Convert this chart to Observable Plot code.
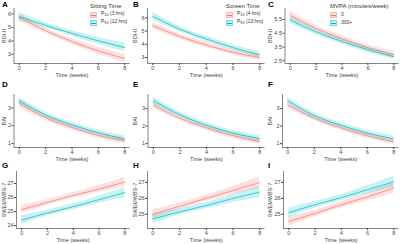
<!DOCTYPE html>
<html><head><meta charset="utf-8">
<script src="https://cdn.jsdelivr.net/npm/d3@7"></script>
<script src="https://cdn.jsdelivr.net/npm/@observablehq/plot@0.6"></script>
<style>
body{margin:0;background:#fff;}
#root{position:relative;width:400px;height:244px;overflow:hidden;font-family:"Liberation Sans",Arial,sans-serif;background:#fff;}
.pn{position:absolute;}
.pn svg{overflow:visible;}
.let{position:absolute;font-weight:bold;font-size:8px;color:#000;line-height:1;}
.leg{position:absolute;color:#333;line-height:1;white-space:nowrap;}
.leg .tt{font-size:6px;margin-bottom:1.5px;}
.leg .row{display:flex;align-items:center;height:8px;font-size:5px;}
.leg .key{position:relative;width:7px;height:6px;margin-right:4px;box-sizing:border-box;}
.leg .key i{position:absolute;left:0;right:0;top:2.6px;height:0.8px;}
sub{font-size:3.8px;vertical-align:-1px;}
</style>
</head><body>
<div id="root"></div>
<script>
const RED = "#F8766D", CYAN = "#00BFC4";
const weeks = [0, 2, 4, 6, 8];
const xTicks = [0, 2, 4, 6, 8];

// Panel A: Sitting Time, BDI-II
const A_p10_est = [5.75, 4.75, 3.95, 3.25, 2.70];
const A_p10_lo  = [5.45, 4.55, 3.75, 3.00, 2.40];
const A_p10_hi  = [6.05, 4.95, 4.15, 3.50, 3.00];
const A_p90_est = [5.80, 5.15, 4.55, 4.00, 3.50];
const A_p90_lo  = [5.50, 4.95, 4.35, 3.75, 3.20];
const A_p90_hi  = [6.10, 5.35, 4.75, 4.25, 3.80];
// Panel B: Screen Time, BDI-II
const B_p10_est = [5.40, 4.60, 3.95, 3.40, 3.00];
const B_p10_lo  = [5.15, 4.40, 3.75, 3.20, 2.75];
const B_p10_hi  = [5.65, 4.80, 4.15, 3.60, 3.25];
const B_p90_est = [6.10, 5.15, 4.40, 3.75, 3.20];
const B_p90_lo  = [5.80, 4.95, 4.20, 3.55, 2.95];
const B_p90_hi  = [6.40, 5.35, 4.60, 3.95, 3.45];
// Panel C: MVPA, BDI-II
const C_0_est   = [5.80, 4.85, 4.10, 3.45, 2.95];
const C_0_lo    = [5.50, 4.65, 3.90, 3.25, 2.70];
const C_0_hi    = [6.10, 5.05, 4.30, 3.65, 3.20];
const C_300_est = [5.45, 4.60, 3.90, 3.30, 2.80];
const C_300_lo  = [5.20, 4.40, 3.70, 3.10, 2.60];
const C_300_hi  = [5.70, 4.80, 4.10, 3.50, 3.00];
// Panel D: Sitting Time, BAI
const D_p10_est = [3.25, 2.45, 1.90, 1.45, 1.15];
const D_p10_lo  = [3.05, 2.30, 1.75, 1.30, 0.98];
const D_p10_hi  = [3.45, 2.60, 2.05, 1.60, 1.32];
const D_p90_est = [3.40, 2.60, 2.05, 1.60, 1.25];
const D_p90_lo  = [3.20, 2.45, 1.90, 1.45, 1.08];
const D_p90_hi  = [3.60, 2.75, 2.20, 1.75, 1.42];
// Panel E: Screen Time, BAI
const E_p10_est = [3.20, 2.45, 1.90, 1.45, 1.12];
const E_p10_lo  = [3.00, 2.30, 1.75, 1.30, 0.95];
const E_p10_hi  = [3.40, 2.60, 2.05, 1.60, 1.29];
const E_p90_est = [3.45, 2.65, 2.05, 1.60, 1.28];
const E_p90_lo  = [3.25, 2.50, 1.90, 1.45, 1.10];
const E_p90_hi  = [3.65, 2.80, 2.20, 1.75, 1.46];
// Panel F: MVPA, BAI
const F_0_est   = [3.20, 2.45, 1.90, 1.45, 1.10];
const F_0_lo    = [3.00, 2.30, 1.75, 1.30, 0.93];
const F_0_hi    = [3.40, 2.60, 2.05, 1.60, 1.27];
const F_300_est = [3.45, 2.60, 2.05, 1.60, 1.27];
const F_300_lo  = [3.25, 2.45, 1.90, 1.45, 1.09];
const F_300_hi  = [3.65, 2.75, 2.20, 1.75, 1.45];
// Panel G: Sitting Time, SWEMWBS-7
const G_p10_est = [25.15, 25.65, 26.15, 26.60, 27.10];
const G_p10_lo  = [24.85, 25.45, 25.95, 26.35, 26.75];
const G_p10_hi  = [25.45, 25.85, 26.35, 26.85, 27.45];
const G_p90_est = [24.40, 24.90, 25.35, 25.85, 26.35];
const G_p90_lo  = [24.10, 24.70, 25.15, 25.60, 26.00];
const G_p90_hi  = [24.70, 25.10, 25.55, 26.10, 26.70];
// Panel H: Screen Time, SWEMWBS-7
const H_p10_est = [25.00, 25.50, 26.00, 26.50, 27.00];
const H_p10_lo  = [24.70, 25.30, 25.80, 26.25, 26.65];
const H_p10_hi  = [25.30, 25.70, 26.20, 26.75, 27.35];
const H_p90_est = [24.70, 25.15, 25.55, 26.00, 26.40];
const H_p90_lo  = [24.40, 24.95, 25.35, 25.75, 26.05];
const H_p90_hi  = [25.00, 25.35, 25.75, 26.25, 26.75];
// Panel I: MVPA, SWEMWBS-7
const I_0_est   = [24.55, 25.05, 25.60, 26.10, 26.65];
const I_0_lo    = [24.25, 24.85, 25.40, 25.85, 26.30];
const I_0_hi    = [24.85, 25.25, 25.80, 26.35, 27.00];
const I_300_est = [25.10, 25.60, 26.05, 26.55, 27.05];
const I_300_lo  = [24.80, 25.40, 25.85, 26.30, 26.70];
const I_300_hi  = [25.40, 25.80, 26.25, 26.80, 27.40];

const legendTitles = ["Sitting Time", "Screen Time", "MVPA (minutes/week)"];
const legendLabels = [
  ["P<sub>10</sub> (3 hrs)", "P<sub>90</sub> (12 hrs)"],
  ["P<sub>10</sub> (4 hrs)", "P<sub>90</sub> (13 hrs)"],
  ["0", "300+"]
];
const yLabels = ["BDI-II", "BAI", "SWEMWBS-7"];
const panelLetters = ["A","B","C","D","E","F","G","H","I"];

const root = document.getElementById("root");
const rowGeom = [
  {top: 0,   height: 80, mT: 8,  mB: 17},
  {top: 80,  height: 81, mT: 14, mB: 14},
  {top: 161, height: 83, mT: 10, mB: 16}
];
const colGeom = [
  {left: 0,   end: 129.5},
  {left: 131, end: 264.5},
  {left: 266, end: 398.5}
];
const intFmt = d3.format("d"), decFmt = d3.format(".1f");
const panels = [
  {est:[A_p10_est,A_p90_est], lo:[A_p10_lo,A_p90_lo], hi:[A_p10_hi,A_p90_hi], yd:[2.32,6.4], yt:[3,4,5,6], axis:13.5},
  {est:[B_p10_est,B_p90_est], lo:[B_p10_lo,B_p90_lo], hi:[B_p10_hi,B_p90_hi], yd:[2.55,6.7], yt:[3,4,5,6], axis:147},
  {est:[C_0_est,C_300_est], lo:[C_0_lo,C_300_lo], hi:[C_0_hi,C_300_hi], yd:[2.3,6.3], yt:[2.5,3.5,4.5,5.5], fmt:decFmt, axis:284.5},
  {est:[D_p10_est,D_p90_est], lo:[D_p10_lo,D_p90_lo], hi:[D_p10_hi,D_p90_hi], yd:[0.78,3.75], yt:[1,2,3], axis:13.5},
  {est:[E_p10_est,E_p90_est], lo:[E_p10_lo,E_p90_lo], hi:[E_p10_hi,E_p90_hi], yd:[0.78,3.8], yt:[1,2,3], axis:147.5},
  {est:[F_0_est,F_300_est], lo:[F_0_lo,F_300_lo], hi:[F_0_hi,F_300_hi], yd:[0.78,3.8], yt:[1,2,3], axis:282},
  {est:[G_p10_est,G_p90_est], lo:[G_p10_lo,G_p90_lo], hi:[G_p10_hi,G_p90_hi], yd:[23.8,27.85], yt:[24,25,26,27], axis:16},
  {est:[H_p10_est,H_p90_est], lo:[H_p10_lo,H_p90_lo], hi:[H_p10_hi,H_p90_hi], yd:[24.1,27.7], yt:[25,26,27], axis:147},
  {est:[I_0_est,I_300_est], lo:[I_0_lo,I_300_lo], hi:[I_0_hi,I_300_hi], yd:[24.1,27.7], yt:[25,26,27], axis:283}
];
const colors = [RED, CYAN];

panels.forEach((p, idx) => {
  const r = Math.floor(idx / 3), c = idx % 3;
  const rg = rowGeom[r], cg = colGeom[c];
  const width = cg.end - cg.left + 1.5;
  const mL = p.axis - cg.left;
  const rows = [];
  [0,1].forEach(s => weeks.forEach((t, i) => rows.push({t, s, est: p.est[s][i], lo: p.lo[s][i], hi: p.hi[s][i]})));
  const marks = [];
  [0,1].forEach(s => {
    const d = rows.filter(q => q.s === s);
    marks.push(Plot.areaY(d, {x: "t", y1: "lo", y2: "hi", fill: colors[s], fillOpacity: 0.22, curve: "natural"}));
  });
  [0,1].forEach(s => {
    const d = rows.filter(q => q.s === s);
    marks.push(Plot.lineY(d, {x: "t", y: "est", stroke: colors[s], strokeWidth: 0.75, curve: "natural"}));
  });
  marks.push(Plot.ruleX([-0.4], {stroke: "#333", strokeWidth: 0.6}));
  marks.push(Plot.ruleY([p.yd[0]], {stroke: "#333", strokeWidth: 0.6}));
  marks.push(Plot.axisX({ticks: xTicks, tickFormat: intFmt, tickSize: 2, tickPadding: 1, label: "Time (weeks)", labelAnchor: "center", labelOffset: 13.5, labelArrow: "none", fontSize: 5.5, color: "#444"}));
  marks.push(Plot.axisY({ticks: p.yt, tickFormat: p.fmt || intFmt, tickSize: 2, tickPadding: 1, label: yLabels[r], labelAnchor: "center", labelOffset: mL - 2, labelArrow: "none", fontSize: 5.5, color: "#444"}));
  const svg = Plot.plot({
    width, height: rg.height,
    marginLeft: mL, marginRight: 1.5, marginTop: rg.mT, marginBottom: rg.mB,
    style: {fontFamily: "Liberation Sans, Arial, sans-serif", fontSize: "6px", background: "transparent", color: "#333"},
    x: {domain: [-0.4, 8.4]},
    y: {domain: p.yd},
    marks
  });
  const div = document.createElement("div");
  div.className = "pn";
  div.style.left = cg.left + "px";
  div.style.top = rg.top + "px";
  div.appendChild(svg);
  root.appendChild(div);
  const L = document.createElement("div");
  L.className = "let";
  L.textContent = panelLetters[idx];
  L.style.left = (cg.left + 2) + "px";
  L.style.top = (rg.top + 1) + "px";
  root.appendChild(L);
});

const legendPos = [{left: 90, top: 3}, {left: 226, top: 3}, {left: 330, top: 3}];
legendPos.forEach((pos, i) => {
  const lg = document.createElement("div");
  lg.className = "leg";
  lg.style.left = pos.left + "px";
  lg.style.top = pos.top + "px";
  let html = `<div class="tt">${legendTitles[i]}</div>`;
  legendLabels[i].forEach((lab, s) => {
    const col = colors[s];
    html += `<div class="row"><div class="key" style="background:${col}38;border:0.5px solid ${col}66"><i style="background:${col}"></i></div><span>${lab}</span></div>`;
  });
  lg.innerHTML = html;
  root.appendChild(lg);
});
</script>
</body></html>
